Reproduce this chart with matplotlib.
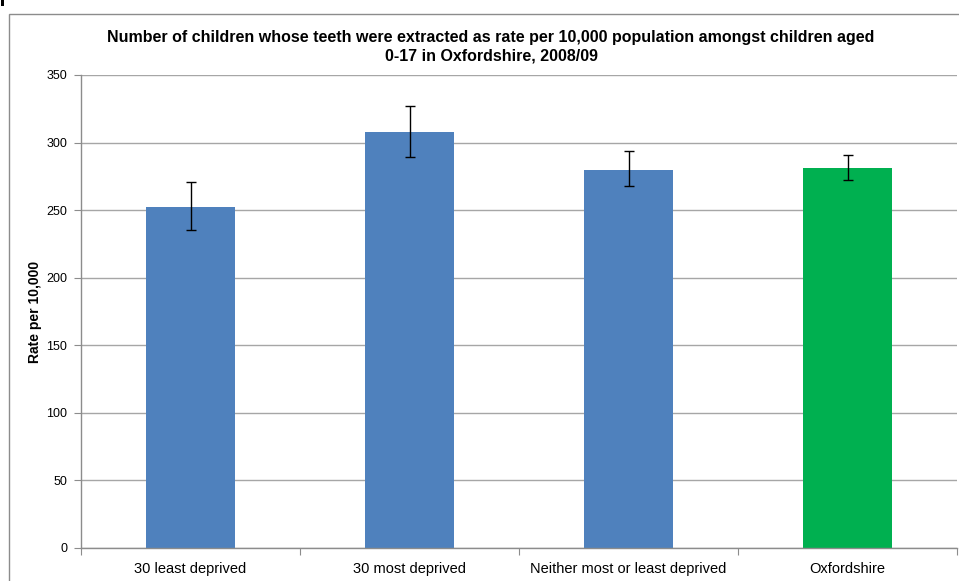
import matplotlib
matplotlib.use("Agg")
import matplotlib.pyplot as plt
from matplotlib.patches import Rectangle
import numpy as np

plt.rcParams['font.family'] = ['Liberation Sans', 'DejaVu Sans']

categories = ["30 least deprived", "30 most deprived", "Neither most or least deprived", "Oxfordshire"]
values = [252, 308, 280, 281]
err_low = [235, 289, 268, 272]
err_high = [271, 327, 294, 291]
colors = ["#4F81BD", "#4F81BD", "#4F81BD", "#00B050"]
yticks = [0, 50, 100, 150, 200, 250, 300, 350]
title = "Number of children whose teeth were extracted as rate per 10,000 population amongst children aged\n0-17 in Oxfordshire, 2008/09"

W, H = 959, 581
fig = plt.figure(figsize=(W / 100, H / 100), dpi=100)

# outer chart frame
fig.patches.append(Rectangle((9 / W, -0.1), 1.2, (H - 14) / H + 0.1, transform=fig.transFigure,
                             fill=False, edgecolor="#8c8c8c", linewidth=1))
# small mark at top-left
fig.patches.append(Rectangle((1 / W, (H - 6) / H), 3 / W, 6 / H, transform=fig.transFigure,
                             facecolor="black", edgecolor="none"))

ax = fig.add_axes([81 / W, (H - 548) / H, (957 - 81) / W, (548 - 75) / H])
x = np.arange(len(categories))
vals = np.array(values)
lo = vals - np.array(err_low)
hi = np.array(err_high) - vals
ax.bar(x, vals, width=0.41, color=colors, zorder=2)
ax.errorbar(x, vals, yerr=[lo, hi], fmt="none", ecolor="black", elinewidth=1,
            capsize=3.5, capthick=1, zorder=3)

ax.set_xlim(-0.5, len(categories) - 0.5)
ax.set_ylim(0, 350)
ax.set_yticks(yticks)
ax.set_yticklabels([str(t) for t in yticks], fontsize=9)
ax.yaxis.grid(True, color="#a6a6a6", linewidth=1, zorder=0)
ax.set_axisbelow(True)

ax.set_xticks(np.arange(-0.5, len(categories)), minor=False)
ax.set_xticklabels([""] * (len(categories) + 1))
ax.set_xticks(x, minor=True)
ax.set_xticklabels(categories, minor=True, fontsize=10.5)
ax.tick_params(axis="x", which="minor", length=0, pad=10)
ax.tick_params(axis="x", which="major", length=5, color="#8c8c8c")
ax.tick_params(axis="y", length=5, color="#8c8c8c", pad=5)

for s in ["top", "right"]:
    ax.spines[s].set_visible(False)
for s in ["left", "bottom"]:
    ax.spines[s].set_color("#8c8c8c")
    ax.spines[s].set_linewidth(1)

ax.set_ylabel("Rate per 10,000", fontsize=10, fontweight="bold", labelpad=3)
fig.text(491 / W, (H - 47) / H, title, ha="center", va="center",
         fontsize=11.5, fontweight="bold", linespacing=1.3)

fig.savefig("out.png", dpi=100)
